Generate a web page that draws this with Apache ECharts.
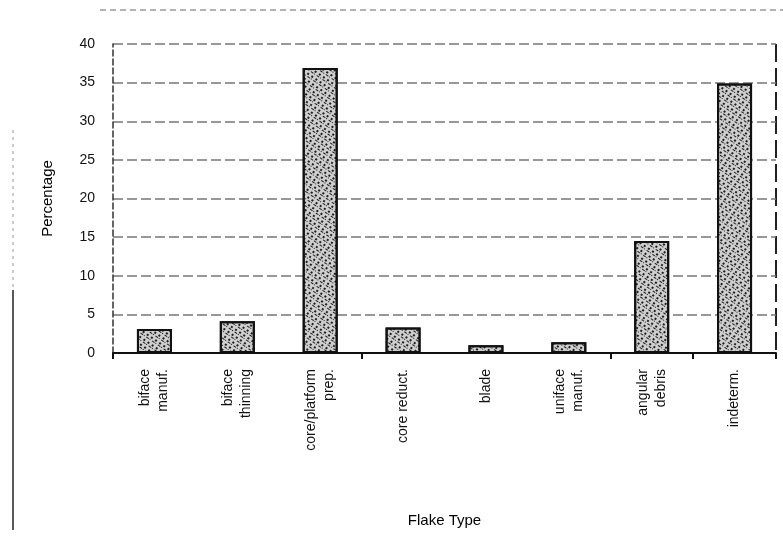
<!DOCTYPE html>
<html>
<head>
<meta charset="utf-8">
<script src="https://cdn.jsdelivr.net/npm/echarts@6/dist/echarts.min.js"></script>
<style>html,body{margin:0;padding:0;background:#fff}#c{width:783px;height:547px}</style>
</head>
<body>
<div id="c"></div>
<script>
const categories = ["biface\nmanuf.", "biface\nthinning", "core/platform\nprep.", "core reduct.", "blade", "uniface\nmanuf.", "angular\ndebris", "indeterm."];
const percentages = [3.1, 4.1, 36.9, 3.3, 1.0, 1.4, 14.5, 34.9];
const yTicks = [0, 5, 10, 15, 20, 25, 30, 35, 40];

const chart = echarts.init(document.getElementById('c'), null, {renderer: 'canvas'});
const font = 'Liberation Sans, Arial, sans-serif';
chart.setOption({
  animation: false,
  backgroundColor: '#fff',
  grid: {left: 113, right: 7, top: 44, bottom: 194},
  xAxis: {
    type: 'category',
    data: categories,
    name: 'Flake Type',
    nameLocation: 'middle',
    nameGap: 160,
    nameTextStyle: {fontFamily: font, fontSize: 15, color: '#000'},
    axisLine: {lineStyle: {color: '#111', width: 2}},
    axisTick: {show: true, interval: 2, length: 6, lineStyle: {color: '#111', width: 2}},
    axisLabel: {rotate: 90, interval: 0, fontFamily: font, fontSize: 14, color: '#111', margin: 16, lineHeight: 18}
  },
  yAxis: {
    type: 'value',
    min: yTicks[0],
    max: yTicks[yTicks.length - 1],
    interval: 5,
    name: 'Percentage',
    nameLocation: 'middle',
    nameGap: 58,
    nameTextStyle: {fontFamily: font, fontSize: 15, color: '#000'},
    axisLine: {show: true, lineStyle: {color: '#333', width: 1.5, type: 'dashed'}},
    axisTick: {show: false},
    axisLabel: {fontFamily: font, fontSize: 14, color: '#111', margin: 18},
    splitLine: {show: true, lineStyle: {color: '#777', width: 1.5, type: [10, 4]}}
  },
  series: [{
    type: 'bar',
    data: percentages,
    barWidth: 35,
    itemStyle: {
      color: '#cfcfcf',
      borderColor: '#111',
      borderWidth: 2,
      decal: {
        symbol: 'rect',
        symbolSize: 1,
        color: 'rgba(0,0,0,0.85)',
        dashArrayX: [[2, 3], [1, 2, 3, 1]],
        dashArrayY: [2, 1, 1, 2],
        rotation: 0.6
      }
    }
  }],
  graphic: [
    {type: 'line', shape: {x1: 100, y1: 10, x2: 783, y2: 10}, style: {stroke: '#999', lineWidth: 1.5, lineDash: [6, 4]}},
    {type: 'line', shape: {x1: 13, y1: 130, x2: 13, y2: 290}, style: {stroke: '#bbb', lineWidth: 1.5, lineDash: [3, 4]}},
    {type: 'line', shape: {x1: 13, y1: 290, x2: 13, y2: 530}, style: {stroke: '#222', lineWidth: 1.5}},
    {type: 'line', shape: {x1: 776, y1: 44, x2: 776, y2: 353}, style: {stroke: '#222', lineWidth: 2, lineDash: [18, 6]}}
  ]
});
</script>
</body>
</html>
